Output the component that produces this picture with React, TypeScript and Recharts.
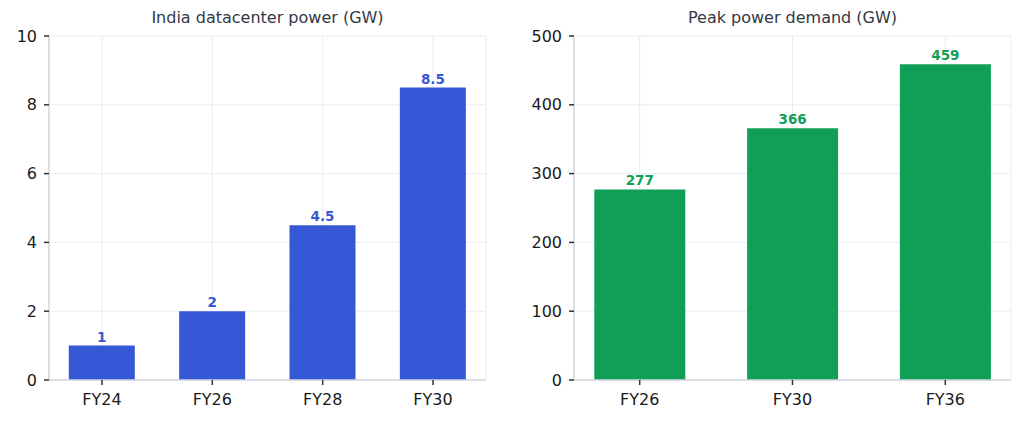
import { Bar, BarChart, CartesianGrid, LabelList, XAxis, YAxis } from "recharts";

const dcYears = ["FY24", "FY26", "FY28", "FY30"];
const dcPower = [1, 2, 4.5, 8.5];
const dcTicks = [0, 2, 4, 6, 8, 10];

const peakYears = ["FY26", "FY30", "FY36"];
const peakDemand = [277, 366, 459];
const peakTicks = [0, 100, 200, 300, 400, 500];

const FONT = "DejaVu Sans, sans-serif";
const BLUE = "#3558d6";
const GREEN = "#119e57";
const SPINE = "#d3d6e0";
const GRID = "#ebebf2";
const TICK_TEXT = "#1a1a1a";

interface PanelProps {
  title: string;
  labels: string[];
  values: number[];
  yTicks: number[];
  color: string;
  left: number;
  yWidth: number;
  right: number;
  xDomain: [number, number];
  barSize: number;
}

function Panel({ title, labels, values, yTicks, color, left, yWidth, right, xDomain, barSize }: PanelProps) {
  const data = values.map((v, i) => ({ idx: i, value: v }));
  const yMax = yTicks[yTicks.length - 1];
  const plotLeft = yWidth;
  const plotRight = 512 - right;
  return (
    <div style={{ position: "absolute", left, top: 0, width: 512, height: 423 }}>
      <div
        style={{
          position: "absolute",
          top: 8,
          left: plotLeft,
          width: plotRight - plotLeft,
          textAlign: "center",
          fontFamily: FONT,
          fontSize: 16,
          color: "#333845",
        }}
      >
        {title}
      </div>
      <BarChart width={512} height={423} data={data} margin={{ top: 36, right, bottom: 0, left: 0 }}>
        <CartesianGrid stroke={GRID} strokeWidth={1} />
        <XAxis
          dataKey="idx"
          type="number"
          domain={xDomain}
          ticks={labels.map((_, i) => i)}
          tickFormatter={(i: number) => labels[i] ?? ""}
          allowDataOverflow
          axisLine={{ stroke: SPINE, strokeWidth: 1.5 }}
          tickLine={{ stroke: "#333", strokeWidth: 1.5 }}
          tickSize={5}
          tickMargin={9}
          tick={{ fontSize: 16, fill: TICK_TEXT, fontFamily: FONT }}
          height={43}
        />
        <XAxis xAxisId="top" orientation="top" type="number" domain={xDomain} tick={false} tickLine={false} axisLine={{ stroke: SPINE, strokeWidth: 1.5 }} height={0} />
        <YAxis
          domain={[0, yMax]}
          ticks={yTicks}
          width={yWidth}
          axisLine={{ stroke: SPINE, strokeWidth: 1.5 }}
          tickLine={{ stroke: "#333", strokeWidth: 1.5 }}
          tickSize={5}
          tickMargin={7}
          tick={{ fontSize: 16, fill: TICK_TEXT, fontFamily: FONT }}
        />
        <YAxis yAxisId="right" orientation="right" domain={[0, yMax]} tick={false} tickLine={false} axisLine={{ stroke: SPINE, strokeWidth: 1.5 }} width={0} />
        <Bar dataKey="value" fill={color} barSize={barSize} isAnimationActive={false}>
          <LabelList
            dataKey="value"
            position="top"
            offset={4}
            fill={color}
            fontSize={13.5}
            fontWeight="bold"
            fontFamily={FONT}
          />
        </Bar>
      </BarChart>
    </div>
  );
}

export default function App() {
  return (
    <div style={{ position: "fixed", left: 0, top: 0, width: 1024, height: 423, background: "#fff" }}>
      <Panel
        title="India datacenter power (GW)"
        labels={dcYears}
        values={dcPower}
        yTicks={dcTicks}
        color={BLUE}
        left={0}
        yWidth={49}
        right={26}
        xDomain={[-0.48, 3.48]}
        barSize={66}
      />
      <Panel
        title="Peak power demand (GW)"
        labels={peakYears}
        values={peakDemand}
        yTicks={peakTicks}
        color={GREEN}
        left={512}
        yWidth={62}
        right={13}
        xDomain={[-0.43, 2.43]}
        barSize={91}
      />
    </div>
  );
}
